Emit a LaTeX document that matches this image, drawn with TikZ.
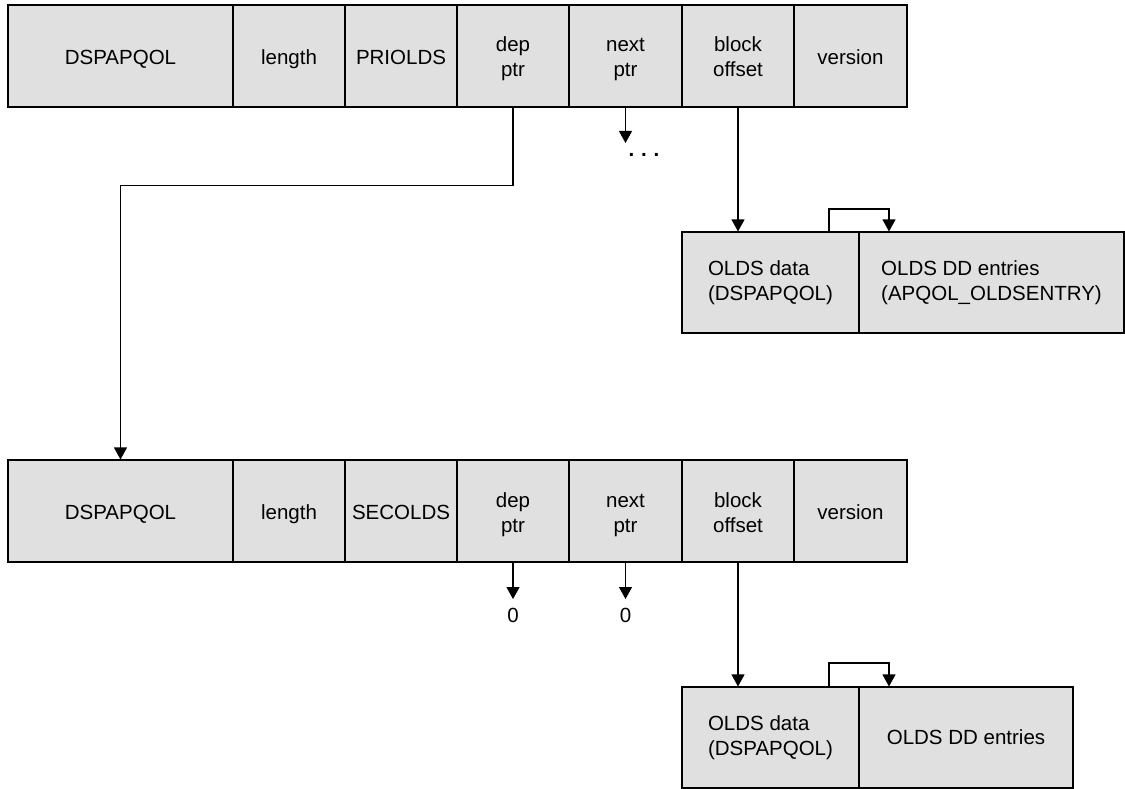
\documentclass[tikz,border=0pt]{standalone}
\usepackage{fontspec}
\setmainfont{Liberation Sans}
\usetikzlibrary{arrows.meta}
\definecolor{cellgray}{HTML}{E0E0E0}
\newcommand{\celltext}[1]{\raisebox{-3.5pt}[\height][\depth]{\begin{tabular}{@{}c@{}}#1\end{tabular}}}
\begin{document}
\begin{tikzpicture}[x=1pt,y=-1pt,
  cell/.style={draw=black, fill=cellgray, line width=1.1pt, inner sep=0pt,
    align=center, font=\fontsize{20.5}{25}\selectfont},
  rowcell/.style={cell, minimum height=102pt},
  oldscell/.style={cell, minimum height=101pt, align=left},
  arr/.style={line width=1.1pt, -{Triangle[length=12pt,width=13pt]}},
  lbl/.style={font=\fontsize{20.5}{25}\selectfont, inner sep=0pt}]
\useasboundingbox (0,0) rectangle (1125,789);

% top row
\node[rowcell, minimum width=225pt] (t1) at (120.5,56) {\celltext{DSPAPQOL}};
\node[rowcell, minimum width=112pt] (t2) at (289,56) {\celltext{length}};
\node[rowcell, minimum width=112pt] (t3) at (401,56) {\celltext{PRIOLDS}};
\node[rowcell, minimum width=112pt] (t4) at (513,56) {\celltext{dep\\ptr}};
\node[rowcell, minimum width=113pt] (t5) at (625.5,56) {\celltext{next\\ptr}};
\node[rowcell, minimum width=112pt] (t6) at (738,56) {\celltext{block\\offset}};
\node[rowcell, minimum width=113pt] (t7) at (850.5,56) {\celltext{version}};

% top OLDS block
\node[oldscell, minimum width=177pt] (od1) at (770.5,282.5) {OLDS data\\(DSPAPQOL)};
\node[oldscell, minimum width=265pt] (oe1) at (991.5,282.5) {OLDS DD entries\\(APQOL\_OLDSENTRY)};

% bottom row
\node[rowcell, minimum width=225pt] (b1) at (120.5,511) {\celltext{DSPAPQOL}};
\node[rowcell, minimum width=112pt] (b2) at (289,511) {\celltext{length}};
\node[rowcell, minimum width=112pt] (b3) at (401,511) {\celltext{SECOLDS}};
\node[rowcell, minimum width=112pt] (b4) at (513,511) {\celltext{dep\\ptr}};
\node[rowcell, minimum width=113pt] (b5) at (625.5,511) {\celltext{next\\ptr}};
\node[rowcell, minimum width=112pt] (b6) at (738,511) {\celltext{block\\offset}};
\node[rowcell, minimum width=113pt] (b7) at (850.5,511) {\celltext{version}};

% bottom OLDS block
\node[oldscell, minimum width=177pt] (od2) at (770.5,737.5) {OLDS data\\(DSPAPQOL)};
\node[oldscell, minimum width=214pt] (oe2) at (966,737.5) {OLDS DD entries};

% labels
\coordinate (nx) at (625.5,143);
\node[lbl, anchor=base, font=\fontsize{20.5}{25}\selectfont\bfseries] (dots) at (644,157) {.\,\,.\,\,.};
\node[lbl] (z1) at (513,615.5) {0};
\node[lbl] (z2) at (625.5,615.5) {0};

% connectors
\draw[arr] (t4.south) -- ++(0,78) -| (b1.north);
\draw[arr] (t5.south) -- (nx);
\draw[arr] (t6.south) -- (t6.south |- od1.north);
\draw[arr] (829,0 |- od1.north) -- (829,209) -| (889,0 |- oe1.north);

\draw[arr] (b4.south) -- ([yshift=9pt]z1.north);
\draw[arr] (b5.south) -- ([yshift=9pt]z2.north);
\draw[arr] (b6.south) -- (b6.south |- od2.north);
\draw[arr] (829,0 |- od2.north) -- (829,663) -| (889,0 |- oe2.north);
\end{tikzpicture}
\end{document}
